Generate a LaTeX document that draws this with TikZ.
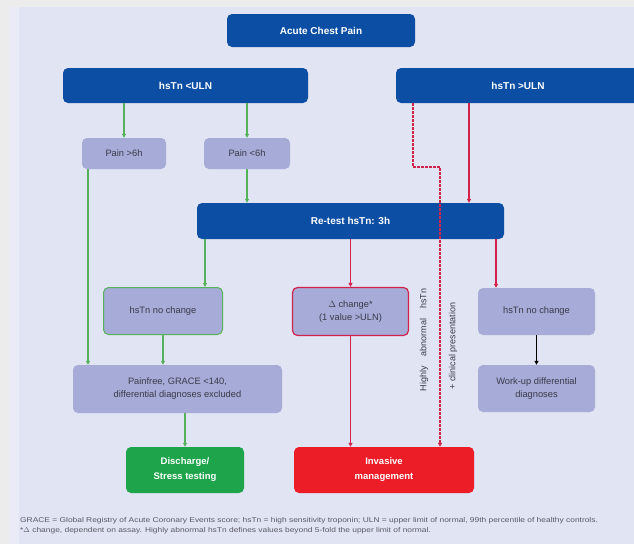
\documentclass[tikz,border=0pt]{standalone}
\usepackage{fontspec}
\setmainfont{Liberation Sans}
\newfontfamily\footfont[FakeStretch=1.2]{Liberation Sans}
\usetikzlibrary{arrows.meta}
\definecolor{outerbg}{HTML}{ECECEC}
\definecolor{panelbg}{HTML}{E1E4F2}
\definecolor{panelstrip}{HTML}{E9ECF7}
\definecolor{darkblue}{HTML}{0C4EA4}
\definecolor{lightbox}{HTML}{A6ABD7}
\definecolor{garr}{HTML}{56B15B}
\definecolor{rarr}{HTML}{D2234C}
\definecolor{okgreen}{HTML}{1EA54B}
\definecolor{alarmred}{HTML}{EC1D27}
\definecolor{boxtext}{HTML}{3A3A4A}
\definecolor{foot}{HTML}{5A5A66}
\tikzset{
  base/.style={rounded corners=5pt, align=center, inner sep=1pt},
  darkbox/.style={base, fill=darkblue, text=white, font=\fontsize{10}{12}\selectfont\bfseries},
  lbox/.style={base, fill=lightbox, text=boxtext, font=\fontsize{9.3}{13}\selectfont},
  gbox/.style={lbox, draw=garr, line width=1pt},
  rbox/.style={lbox, draw=rarr, line width=1.2pt},
  endgreen/.style={base, fill=okgreen, text=white, font=\fontsize{9.5}{15}\selectfont\bfseries},
  endred/.style={base, fill=alarmred, text=white, font=\fontsize{9.5}{15}\selectfont\bfseries},
  tip/.style={-{Triangle[length=4pt,width=4pt]}},
  garrow/.style={tip, draw=garr, line width=1.3pt},
  rarrow/.style={tip, draw=rarr, line width=1.3pt},
  karrow/.style={tip, draw=black, line width=1.3pt},
  dasharrow/.style={tip, draw=rarr, line width=1.2pt, dash pattern=on 2.5pt off 1.5pt},
  vlabel/.style={rotate=90, text=boxtext, font=\fontsize{9}{10}\selectfont, inner sep=0pt},
  footnote/.style={anchor=west, text=foot, font=\footfont\fontsize{7}{8}\selectfont, inner sep=0pt}
}
\begin{document}
\begin{tikzpicture}[x=1pt,y=-1pt]
\useasboundingbox (0,0) rectangle (634,544);
\begin{scope}
\clip (0,0) rectangle (634,544);
\fill[outerbg] (0,0) rectangle (634,544);
\fill[panelbg] (9,7) rectangle (634,544);
\fill[panelstrip] (9,7) rectangle (19,544);

% nodes
\node[darkbox, minimum width=188pt, minimum height=33pt] (acp) at (321,30.5) {Acute Chest Pain};
\node[darkbox, minimum width=245pt, minimum height=35pt] (hL) at (185.5,85.5) {hsTn <ULN};
\node[darkbox, minimum width=244pt, minimum height=35pt] (hR) at (518,85.5) {hsTn >ULN};
\node[lbox, minimum width=84pt, minimum height=31pt] (p1) at (124,153.5) {Pain >6h};
\node[lbox, minimum width=86pt, minimum height=31pt] (p2) at (247,153.5) {Pain <6h};
\node[darkbox, minimum width=307pt, minimum height=36pt] (rt) at (350.5,221) {Re-test hsTn: 3h};
\node[gbox, minimum width=119pt, minimum height=47pt] (nL) at (163,311) {hsTn no change};
\node[rbox, minimum width=116pt, minimum height=48pt] (dc) at (350.5,311.5) {$\Delta$ change*\\(1 value >ULN)};
\node[lbox, minimum width=117pt, minimum height=47pt] (nR) at (536.5,311.5) {hsTn no change};
\node[lbox, minimum width=209pt, minimum height=48pt] (pf) at (177.5,389) {Painfree, GRACE <140,\\differential diagnoses excluded};
\node[lbox, minimum width=117pt, minimum height=47pt] (wu) at (536.5,388.5) {Work-up differential\\diagnoses};
\node[endgreen, minimum width=118pt, minimum height=46pt] (dis) at (185,470) {Discharge/\\Stress testing};
\node[endred, minimum width=180pt, minimum height=46pt] (inv) at (384,470) {Invasive\\management};

% connectors
\draw[garrow] (p1.north |- hL.south) -- (p1.north);
\draw[garrow] (p2.north |- hL.south) -- (p2.north);
\draw[garrow] ([xshift=-36pt]p1.south) -- ([xshift=-36pt]p1.south |- pf.north);
\draw[garrow] (p2.south) -- (p2.south |- rt.north);
\draw[garrow] ([xshift=42pt]nL.north |- rt.south) -- ([xshift=42pt]nL.north);
\draw[garrow] (nL.south) -- (nL.south |- pf.north);
\draw[garrow] (dis.north |- pf.south) -- (dis.north);
\draw[rarrow] (dc.north |- rt.south) -- (dc.north);
\draw[rarrow] (dc.south) -- (dc.south |- inv.north);
\draw[rarrow] ([xshift=-49pt]hR.south) -- ([xshift=-49pt]hR.south |- rt.north);
\draw[rarrow] ([xshift=-40.5pt]nR.north |- rt.south) -- ([xshift=-40.5pt]nR.north);
\draw[karrow] (nR.south) -- (wu.north);

\coordinate (d1) at (413,167);
\coordinate (d2) at (440,167);
\draw[dasharrow] (hR.south -| d1) -- (d1) -- (d2) -- (d2 |- inv.north);

\node[vlabel] (vl1) at (424,340) {Highly\hspace{10pt}abnormal\hspace{10pt}hsTn};
\node[vlabel] (vl2) at (453,346) {+ clinical presentation};

\node[footnote] (f1) at (20,521) {GRACE = Global Registry of Acute Coronary Events score; hsTn = high sensitivity troponin; ULN = upper limit of normal, 99th percentile of healthy controls.};
\node[footnote] (f2) at (20,531) {*$\Delta$ change, dependent on assay. Highly abnormal hsTn defines values beyond 5-fold the upper limit of normal.};
\end{scope}
\end{tikzpicture}
\end{document}
